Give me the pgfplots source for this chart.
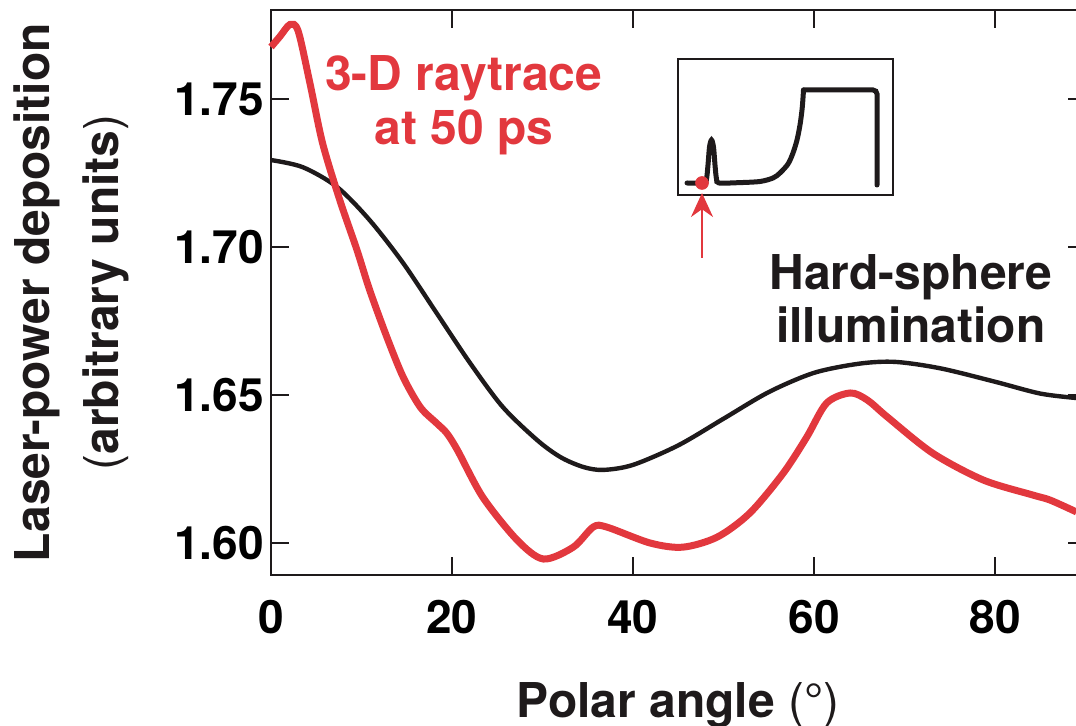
\documentclass[border=0pt]{standalone}
\usepackage{pgfplots}
\pgfplotsset{compat=1.18}
\usepackage{fontspec}
\setmainfont{TeX Gyre Heros}
\usetikzlibrary{arrows.meta}
\definecolor{rred}{RGB}{226,56,62}
\definecolor{kblack}{RGB}{30,26,27}
\begin{document}
\begin{tikzpicture}
\begin{axis}[
  scale only axis, width=407.25pt, height=282.5pt,
  at={(0,0)}, anchor=south west,
  xmin=0, xmax=90, ymin=1.5892, ymax=1.7801,
  xtick={0,20,40,60,80}, ytick={1.60,1.65,1.70,1.75},
  tick align=inside, major tick length=9pt,
  every tick/.style={line width=1.2pt, kblack},
  axis line style={line width=1.4pt, kblack},
  /pgf/number format/assume math mode=true,
  ticklabel style={font=\fontsize{23}{27}\selectfont\bfseries},
  yticklabel style={/pgf/number format/.cd, fixed, fixed zerofill, precision=2},
  xticklabel style={yshift=-9pt},
  clip=false,
]
\addplot[kblack, line width=2.2pt, smooth] coordinates {
(0,1.7294)(3.5,1.7270)(7.3,1.7203)(10.9,1.7091)(14.6,1.6946)(18.3,1.6777)(22.0,1.6608)(25.6,1.6460)(29.4,1.6348)(32,1.6290)(34.5,1.6257)(36.7,1.6247)(40.0,1.6264)(45,1.6330)(50,1.6420)(55,1.6510)(60,1.6575)(65,1.6606)(69,1.6612)(74,1.6590)(80,1.6545)(85,1.6505)(89,1.6490)};
\addplot[rred, line width=3.5pt, smooth] coordinates {
(0,1.7676)(1,1.7712)(2.1,1.7752)(3.0,1.7730)(4.3,1.7554)(5.7,1.7351)(7.6,1.7159)(9.5,1.6990)(10.9,1.6855)(12.8,1.6696)(14.6,1.6561)(16.5,1.6459)(18.3,1.6405)(19.4,1.6372)(20.6,1.6314)(23.4,1.6155)(27.2,1.6010)(30.1,1.5946)(33.4,1.5986)(35.6,1.6054)(37.1,1.6054)(41.9,1.6000)(45.5,1.5986)(49.3,1.6020)(52.9,1.6101)(56.6,1.6236)(59.2,1.6358)(61.4,1.6473)(64.0,1.6507)(65.9,1.6483)(68.1,1.6426)(73.1,1.6304)(78.7,1.6213)(84.2,1.6162)(86.1,1.6145)(89,1.6105)};
\node[anchor=base, rred, font=\fontsize{24}{28}\selectfont\bfseries] at (axis cs:21.3,1.753) {3-D raytrace};
\node[anchor=base, rred, font=\fontsize{24}{28}\selectfont\bfseries] at (axis cs:21.3,1.7345) {at 50 ps};
\node[anchor=base, kblack, font=\fontsize{24}{28}\selectfont\bfseries] at (axis cs:70.7,1.6855) {Hard-sphere};
\node[anchor=base, kblack, font=\fontsize{24}{28}\selectfont\bfseries] at (axis cs:70.7,1.6679) {illumination};
\node[anchor=base, kblack, font=\fontsize{24}{28}\selectfont\bfseries] at ([yshift=-71.5pt]rel axis cs:0.5,0) {Polar angle {\mdseries(\textdegree)}};
\node[anchor=base, rotate=90, kblack, font=\fontsize{24}{28}\selectfont\bfseries] at ([xshift=-110.5pt]rel axis cs:0,0.5) {Laser-power deposition};
\node[anchor=base, rotate=90, kblack, font=\fontsize{24}{28}\selectfont\bfseries] at ([xshift=-76pt]rel axis cs:0,0.5) {{\mdseries(}arbitrary units{\mdseries)}};
\end{axis}
\begin{axis}[
  scale only axis, width=107.5pt, height=68pt,
  at={(203.5pt,190pt)}, anchor=south west,
  xmin=0, xmax=215, ymin=0, ymax=136,
  ticks=none, axis line style={line width=1pt, kblack},
  clip=false,
]
\addplot[kblack, line width=2.5pt, smooth, tension=0.5, line cap=round] coordinates {
(9,12)(26,12)(28.5,16)(30,30)(31.5,48)(33.5,55)(35.5,48)(37,30)(38.5,16)(41,12)(60,12.3)(82,13.5)(95,17)(102,22)(110,31)(115,42)(119,55)(122,70)(124,85)(125,97)(125.5,105)};
\addplot[kblack, line width=2.5pt, rounded corners=2pt, line cap=round] coordinates {(125.5,105)(199,105)(199,10)};
\addplot[only marks, mark=*, mark size=3.2pt, rred] coordinates {(24,12)};
\draw[rred, line width=1pt, -{Stealth[length=12pt,width=11pt]}] (axis cs:24,-63) -- (axis cs:24,2);
\end{axis}
\pgfresetboundingbox
\useasboundingbox (-135.5pt,-75.5pt) rectangle (402.5pt,287.5pt);
\end{tikzpicture}
\end{document}
